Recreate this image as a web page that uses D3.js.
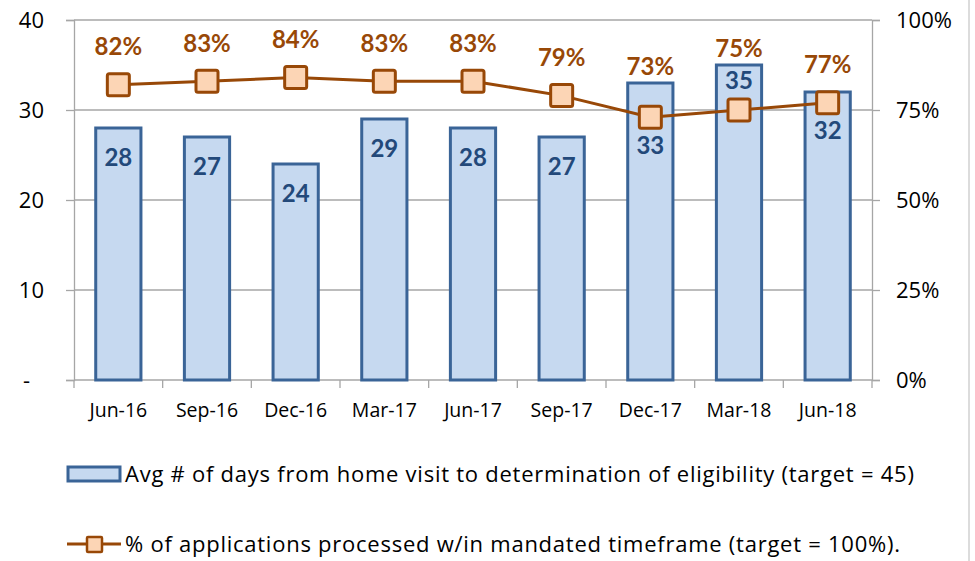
<!DOCTYPE html>
<html>
<head>
<meta charset="utf-8">
<script src="https://cdn.jsdelivr.net/npm/d3@7"></script>
<style>
  body { margin: 0; background: #fff; }
  svg { display: block; font-family: "Open Sans", Lato, sans-serif; }
  .bold-label { font-family: Lato, "Open Sans", sans-serif; font-weight: bold; }
</style>
</head>
<body>
<svg id="chart" width="975" height="561"></svg>
<script>
// data
const quarters = ['Jun-16', 'Sep-16', 'Dec-16', 'Mar-17', 'Jun-17', 'Sep-17', 'Dec-17', 'Mar-18', 'Jun-18']
const avgDays = [28, 27, 24, 29, 28, 27, 33, 35, 32]
const pctOnTime = [82, 83, 84, 83, 83, 79, 73, 75, 77]
const leftTicks = [0, 10, 20, 30, 40]
const rightTicks = [0, 25, 50, 75, 100]
const legendLabels = [
    'Avg # of days from home visit to determination of eligibility (target = 45)',
    '% of applications processed w/in mandated timeframe (target = 100%).'
]

const barFill = '#C6D9F0'
const barStroke = '#3A6497'
const barText = '#23497A'
const lineColor = '#984807'
const markerFill = '#FCD5B5'
const gridColor = '#A6A6A6'

const svg = d3.select('#chart')
const plotLeft = 74, plotRight = 872, plotTop = 20, plotBottom = 380

const x = d3.scaleBand().domain(quarters).range([plotLeft, plotRight]).paddingInner(0.49).paddingOuter(0.245)
const yL = d3.scaleLinear().domain([0, 40]).range([plotBottom, plotTop])
const yR = d3.scaleLinear().domain([0, 100]).range([plotBottom, plotTop])
const step = x.step()
const cx = d => x(d) + x.bandwidth() / 2

// gridlines
svg.append('g')
    .selectAll('line')
    .data(leftTicks.slice(1))
    .enter().append('line')
    .attr('x1', plotLeft).attr('x2', plotRight)
    .attr('y1', d => yL(d)).attr('y2', d => yL(d))
    .style('stroke', gridColor).style('stroke-width', 1.3)

// left axis
const leftAxis = svg.append('g')
    .attr('transform', 'translate(' + plotLeft + ',0)')
    .call(d3.axisLeft(yL).tickValues(leftTicks).tickSize(8).tickPadding(22)
        .tickFormat(d => d == 0 ? '-' : d))
// right axis
const rightAxis = svg.append('g')
    .attr('transform', 'translate(' + plotRight + ',0)')
    .call(d3.axisRight(yR).tickValues(rightTicks).tickSize(8).tickPadding(16)
        .tickFormat(d => d + '%'))
;[leftAxis, rightAxis].forEach(function(a){
    a.select('.domain').style('stroke', gridColor).style('stroke-width', 1.3)
    a.selectAll('.tick line').style('stroke', gridColor).style('stroke-width', 1.3)
    a.selectAll('.tick text').style('font-size', '22px').style('fill', '#000')
        .style('font-family', '"Open Sans", sans-serif')
})
leftAxis.selectAll('.tick text').attr('dx', d => d == 0 ? -14 : 0)

// bottom axis line + ticks at category boundaries
svg.append('line')
    .attr('x1', plotLeft).attr('x2', plotRight).attr('y1', plotBottom).attr('y2', plotBottom)
    .style('stroke', gridColor).style('stroke-width', 1.3)
svg.append('g')
    .selectAll('line')
    .data(d3.range(quarters.length + 1))
    .enter().append('line')
    .attr('x1', i => plotLeft + i * step).attr('x2', i => plotLeft + i * step)
    .attr('y1', plotBottom).attr('y2', plotBottom + 8)
    .style('stroke', gridColor).style('stroke-width', 1.3)
svg.append('g')
    .selectAll('text')
    .data(quarters)
    .enter().append('text')
    .attr('x', d => cx(d)).attr('y', 417)
    .attr('text-anchor', 'middle')
    .style('font-size', '19.5px')
    .text(d => d)

// bars
svg.append('g')
    .selectAll('rect')
    .data(avgDays)
    .enter().append('rect')
    .attr('x', (d, i) => x(quarters[i]))
    .attr('y', d => yL(d))
    .attr('width', x.bandwidth())
    .attr('height', d => plotBottom - yL(d))
    .style('fill', barFill).style('stroke', barStroke).style('stroke-width', 3)

// line + markers
const line = d3.line().x((d, i) => cx(quarters[i])).y(d => yR(d))
svg.append('path')
    .datum(pctOnTime)
    .attr('d', line)
    .style('fill', 'none').style('stroke', lineColor).style('stroke-width', 3)
svg.append('g')
    .selectAll('rect')
    .data(pctOnTime)
    .enter().append('rect')
    .attr('x', (d, i) => cx(quarters[i]) - 11)
    .attr('y', d => yR(d) - 11)
    .attr('width', 22).attr('height', 22).attr('rx', 2)
    .style('fill', markerFill).style('stroke', lineColor).style('stroke-width', 3)

// bar value labels, moved round the markers like the original
function barLabelY(v, i){
    const topY = yL(v), markY = yR(pctOnTime[i])
    const def = topY + 29
    if (Math.abs(def - markY) >= 25) return def
    if (markY - topY > 40) return topY + 15
    return markY + 28
}
svg.append('g')
    .selectAll('text')
    .data(avgDays)
    .enter().append('text')
    .attr('class', 'bold-label')
    .attr('x', (d, i) => cx(quarters[i]))
    .attr('y', (d, i) => barLabelY(d, i))
    .attr('dy', '0.36em')
    .attr('text-anchor', 'middle')
    .style('font-size', '24px').style('fill', barText)
    .text(d => d)

// percent labels above markers (and above bars)
svg.append('g')
    .selectAll('text')
    .data(pctOnTime)
    .enter().append('text')
    .attr('class', 'bold-label')
    .attr('x', (d, i) => cx(quarters[i]))
    .attr('y', (d, i) => Math.min(yR(d) - 38, yL(avgDays[i]) - 17))
    .attr('dy', '0.36em')
    .attr('text-anchor', 'middle')
    .style('font-size', '24px').style('fill', lineColor)
    .text(d => d + '%')

// legend
svg.append('rect')
    .attr('x', 68).attr('y', 467).attr('width', 52).attr('height', 14)
    .style('fill', barFill).style('stroke', barStroke).style('stroke-width', 3)
svg.append('line')
    .attr('x1', 67).attr('x2', 121).attr('y1', 544).attr('y2', 544)
    .style('stroke', lineColor).style('stroke-width', 3)
svg.append('rect')
    .attr('x', 87).attr('y', 537).attr('width', 15).attr('height', 15).attr('rx', 1)
    .style('fill', markerFill).style('stroke', lineColor).style('stroke-width', 2.5)
svg.append('g')
    .selectAll('text')
    .data(legendLabels)
    .enter().append('text')
    .attr('x', 125).attr('y', (d, i) => 474 + i * 70)
    .attr('dy', '0.36em')
    .style('font-size', '22px').style('letter-spacing', '0.75px')
    .text(d => d)

// faint frame edge at the right
svg.append('line')
    .attr('x1', 969).attr('x2', 969).attr('y1', 0).attr('y2', 561)
    .style('stroke', '#D0D0D0').style('stroke-width', 1.5)
</script>
</body>
</html>
